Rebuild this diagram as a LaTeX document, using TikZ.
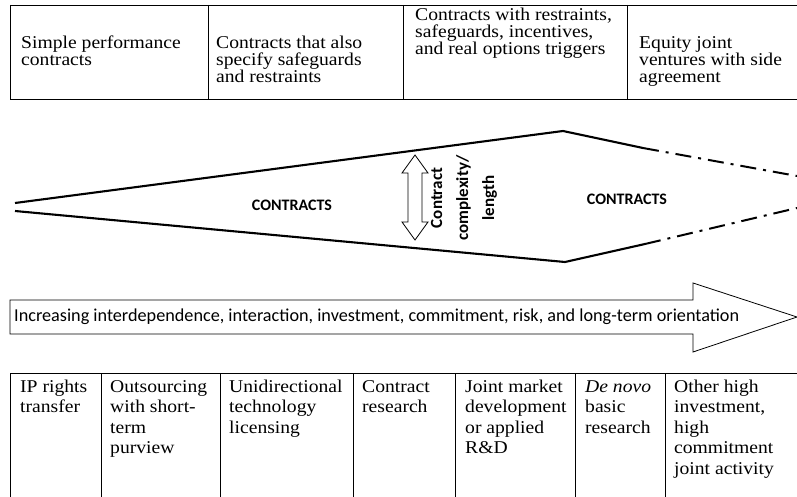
\documentclass[tikz,border=0pt]{standalone}
\usepackage{fontspec}
\newfontfamily\serifwide{Liberation Serif}[FakeStretch=1.09]
\newfontfamily\calfont{Carlito}
\newcommand\topstrut{\rule{0pt}{14pt}}
\begin{document}
\begin{tikzpicture}[x=1pt,y=-1pt,
  tableline/.style={line width=0.9pt},
  lensline/.style={line width=2.1pt},
  dashdotline/.style={line width=2pt, dash pattern=on 16pt off 7pt on 3pt off 7pt},
  celltext/.style={anchor=north west, align=left, inner sep=0pt, font=\serifwide\fontsize{18}{17}\selectfont},
  lowtext/.style={anchor=north west, align=left, inner sep=0pt, font=\serifwide\fontsize{18}{20.5}\selectfont},
  boldlabel/.style={inner sep=0pt, font=\calfont\bfseries\fontsize{16}{19}\selectfont},
  sidelabel/.style={inner sep=0pt, rotate=90, align=center, font=\calfont\bfseries\fontsize{17}{26}\selectfont},
  outline/.style={line width=0.8pt}]
\useasboundingbox (0,0) rectangle (797,497);

% ---- upper table: kinds of contract ----
\draw[tableline] (10,5) -- (797,5) (10,99) -- (797,99);
\foreach \xx in {10,208,403,627} \draw[tableline] (\xx,5) -- (\xx,99);
\node[celltext] (c1) at (21,34) {\topstrut Simple performance\\contracts};
\node[celltext] (c2) at (216,34) {\topstrut Contracts that also\\specify safeguards\\and restraints};
\node[celltext] (c3) at (415,6) {\topstrut Contracts with restraints,\\safeguards, incentives,\\and real options triggers};
\node[celltext] (c4) at (639,34) {\topstrut Equity joint\\ventures with side\\agreement};

% ---- lens of contract complexity ----
\coordinate (tipU) at (15,203);
\coordinate (peak) at (563,131);
\coordinate (breakU) at (643,148);
\coordinate (endU) at (797,176);
\coordinate (tipL) at (15,211);
\coordinate (trough) at (565,262);
\coordinate (breakL) at (645,244);
\coordinate (endL) at (797,208);
\draw[lensline, line join=miter] (tipU) -- (peak) -- (breakU);
\draw[lensline, line join=miter] (tipL) -- (trough) -- (breakL);
\draw[dashdotline] (breakU) -- (endU);
\draw[dashdotline] (breakL) -- (endL);
\node[boldlabel] (k1) at (292,205) {CONTRACTS};
\node[boldlabel] (k2) at (627,199) {CONTRACTS};

% double-headed arrow for complexity
\draw[outline, line join=miter] (415,155) -- (428,173) -- (422,173) -- (422,222) -- (428,222)
  -- (415,240) -- (402,222) -- (408,222) -- (408,173) -- (402,173) -- cycle;
\node[sidelabel] (cx) at (464,198) {Contract\\complexity/\\length};

% ---- long arrow ----
\draw[outline, line join=miter] (10,300) -- (693,300) -- (693,283) -- (797,317)
  -- (693,352) -- (693,334) -- (10,334) -- cycle;
\node[anchor=west, inner sep=0pt, font=\calfont\fontsize{18.2}{20}\selectfont] (trend) at (14,317)
  {Increasing interdependence, interaction, investment, commitment, risk, and long-term orientation};

% ---- lower table: kinds of activity ----
\draw[tableline] (10,373) -- (797,373);
\foreach \xx in {10,101,220,353,455,575,665} \draw[tableline] (\xx,373) -- (\xx,500);
\node[lowtext] (a1) at (20,378) {\topstrut IP rights\\transfer};
\node[lowtext] (a2) at (110,378) {\topstrut Outsourcing\\with short-\\term\\purview};
\node[lowtext] (a3) at (229,378) {\topstrut Unidirectional\\technology\\licensing};
\node[lowtext] (a4) at (362,378) {\topstrut Contract\\research};
\node[lowtext] (a5) at (465,378) {\topstrut Joint market\\development\\or applied\\R\&D};
\node[lowtext] (a6) at (585,378) {\topstrut \textit{De novo}\\basic\\research};
\node[lowtext] (a7) at (674,378) {\topstrut Other high\\investment,\\high\\commitment\\joint activity};
\end{tikzpicture}
\end{document}
